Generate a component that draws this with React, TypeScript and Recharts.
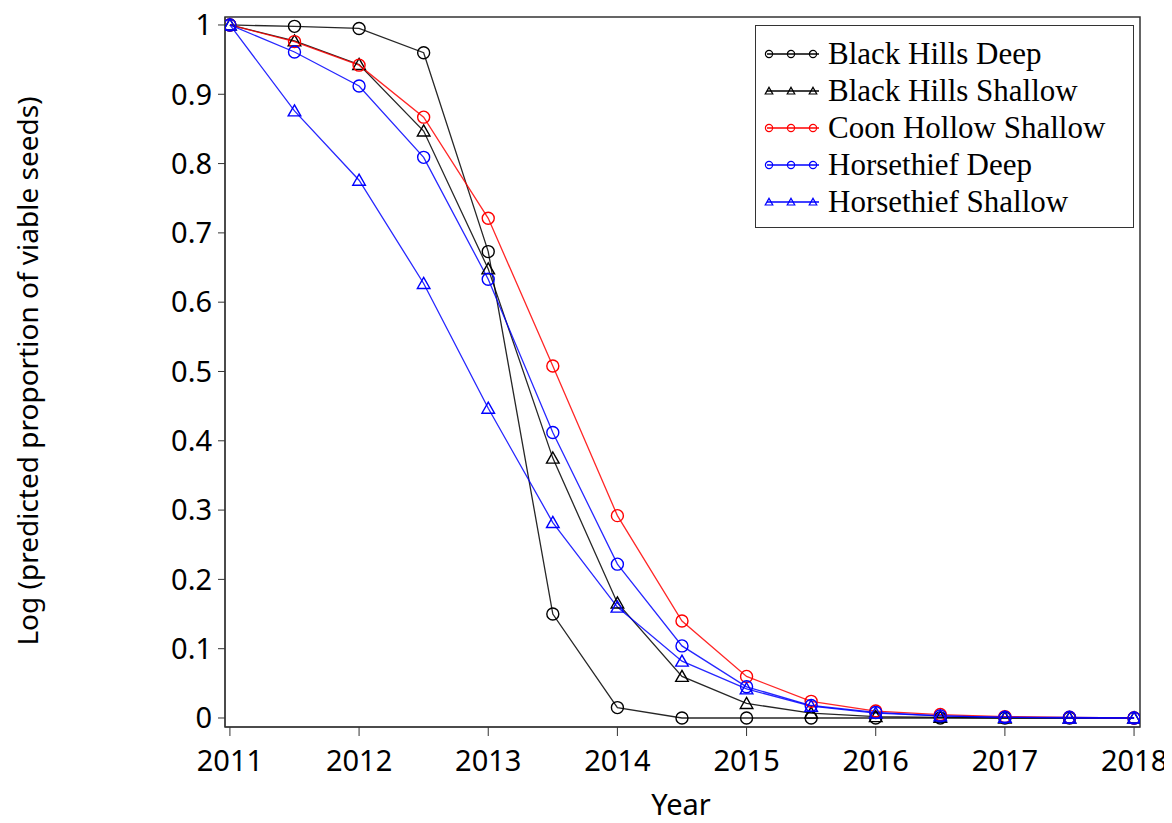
import { Line, LineChart, ReferenceArea, XAxis, YAxis } from "recharts";

// half-year steps from 2011 to 2018
const years = [
  2011, 2011.5, 2012, 2012.5, 2013, 2013.5, 2014, 2014.5, 2015, 2015.5, 2016,
  2016.5, 2017, 2017.5, 2018,
];

const blackHillsDeep = [
  1, 0.998, 0.995, 0.96, 0.673, 0.15, 0.015, 0, 0, 0, 0, 0, 0, 0, 0,
];
const blackHillsShallow = [
  1, 0.977, 0.943, 0.847, 0.648, 0.375, 0.166, 0.06, 0.021, 0.007, 0.002,
  0.001, 0, 0, 0,
];
const coonHollowShallow = [
  1, 0.976, 0.942, 0.867, 0.721, 0.508, 0.292, 0.14, 0.06, 0.024, 0.01, 0.005,
  0.002, 0.001, 0,
];
const horsethiefDeep = [
  1, 0.961, 0.912, 0.809, 0.633, 0.412, 0.222, 0.104, 0.045, 0.018, 0.008,
  0.003, 0.001, 0.001, 0,
];
const horsethiefShallow = [
  1, 0.876, 0.776, 0.627, 0.447, 0.282, 0.16, 0.082, 0.042, 0.017, 0.007,
  0.003, 0.001, 0, 0,
];

const yearTicks = [2011, 2012, 2013, 2014, 2015, 2016, 2017, 2018];
const valueTicks = [0, 0.1, 0.2, 0.3, 0.4, 0.5, 0.6, 0.7, 0.8, 0.9, 1];

const series = [
  { key: "bhd", name: "Black Hills Deep", color: "#000000", shape: "circle", values: blackHillsDeep },
  { key: "bhs", name: "Black Hills Shallow", color: "#000000", shape: "triangle", values: blackHillsShallow },
  { key: "chs", name: "Coon Hollow Shallow", color: "#ff0000", shape: "circle", values: coonHollowShallow },
  { key: "hd", name: "Horsethief Deep", color: "#0000ff", shape: "circle", values: horsethiefDeep },
  { key: "hs", name: "Horsethief Shallow", color: "#0000ff", shape: "triangle", values: horsethiefShallow },
];

const data = years.map((year, i) => {
  const row: Record<string, number> = { year };
  series.forEach((s) => {
    row[s.key] = s.values[i];
  });
  return row;
});

const X_DOMAIN = [2010.962, 2018.046];
const Y_DOMAIN = [-0.013, 1.0115];
const AXIS_FONT = "'Noto Sans', 'Open Sans', sans-serif";

function Marker({ cx, cy, shape, color, size, width = 1.4 }: any) {
  if (cx == null || cy == null) return null;
  if (shape === "triangle") {
    const h = size * 1.85;
    const w = size * 1.05;
    return (
      <path
        d={`M${cx},${cy - h * 0.55} L${cx + w},${cy + h * 0.45} L${cx - w},${cy + h * 0.45} Z`}
        fill="none"
        stroke={color}
        strokeWidth={width}
      />
    );
  }
  return <circle cx={cx} cy={cy} r={size} fill="none" stroke={color} strokeWidth={width} />;
}

function LegendBox() {
  return (
    <div
      style={{
        position: "absolute",
        left: 747,
        top: 25,
        width: 379,
        height: 203,
        border: "1px solid #333",
        background: "#fff",
        boxSizing: "border-box",
        padding: "9px 0 0 9px",
        fontFamily: "'Liberation Serif', 'Times New Roman', serif",
        fontSize: 31,
        color: "#000",
      }}
    >
      {series.map((s) => (
        <div
          key={s.key}
          style={{ display: "flex", alignItems: "center", height: 37, whiteSpace: "nowrap" }}
        >
          <svg width={56} height={14} style={{ marginRight: 7, overflow: "visible" }}>
            <line x1={2} y1={7} x2={54} y2={7} stroke={s.color} strokeWidth={1.3} />
            {[4, 26, 48].map((x) => (
              <Marker key={x} cx={x} cy={7} shape={s.shape} color={s.color} size={3.6} width={1.2} />
            ))}
          </svg>
          <span>{s.name}</span>
        </div>
      ))}
    </div>
  );
}

export default function App() {
  return (
    <div style={{ position: "relative", width: 1164, height: 815, marginTop: -8 }}>
      <LineChart
        width={1164}
        height={815}
        data={data}
        margin={{ top: 17, right: 32, bottom: 0, left: 0 }}
      >
        <XAxis
          dataKey="year"
          type="number"
          domain={X_DOMAIN}
          ticks={yearTicks}
          allowDataOverflow
          height={88}
          tickSize={9}
          tickMargin={14}
          stroke="#333"
          tick={{ fill: "#000", fontSize: 29, fontFamily: AXIS_FONT }}
        />
        <YAxis
          type="number"
          domain={Y_DOMAIN}
          ticks={valueTicks}
          allowDataOverflow
          width={217}
          tickSize={7}
          tickMargin={6}
          stroke="#333"
          tickFormatter={(v: number) => String(Math.round(v * 10) / 10)}
          tick={{ fill: "#000", fontSize: 29, fontFamily: AXIS_FONT }}
          label={{
            content: () => (
              <text
                transform="translate(19 371) rotate(-90)"
                x={0}
                y={0}
                textAnchor="middle"
                dominantBaseline="central"
                fill="#000"
                fontSize={28}
                fontFamily={AXIS_FONT}
              >
                Log (predicted proportion of viable seeds)
              </text>
            ),
          }}
        />
        <ReferenceArea
          x1={X_DOMAIN[0]}
          x2={X_DOMAIN[1]}
          y1={Y_DOMAIN[0]}
          y2={Y_DOMAIN[1]}
          fill="none"
          stroke="#333"
          strokeWidth={1.5}
        />
        {series.map((s) => (
          <Line
            key={s.key}
            dataKey={s.key}
            name={s.name}
            stroke={s.color}
            strokeWidth={1.3}
            strokeOpacity={0.85}
            isAnimationActive={false}
            dot={(p: any) => (
              <Marker
                key={`${s.key}-${p.index}`}
                cx={p.cx}
                cy={p.cy}
                shape={s.shape}
                color={s.color}
                size={6}
              />
            )}
            activeDot={false}
          />
        ))}
      </LineChart>
      <div
        style={{
          position: "absolute",
          left: 573,
          top: 789,
          width: 200,
          textAlign: "center",
          fontFamily: AXIS_FONT,
          fontSize: 29,
          lineHeight: 1,
          color: "#000",
        }}
      >
        Year
      </div>
      <LegendBox />
    </div>
  );
}
